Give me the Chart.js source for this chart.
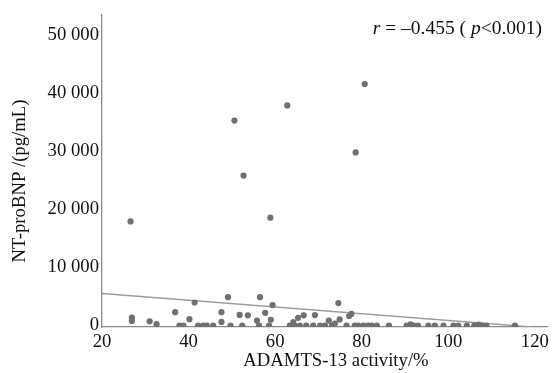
<!DOCTYPE html>
<html>
<head>
<meta charset="utf-8">
<script src="https://cdn.jsdelivr.net/npm/chart.js@4.4.1/dist/chart.umd.min.js"></script>
<style>
html,body{margin:0;padding:0;background:#fff;}
#wrap{width:553px;height:373px;position:relative;}
</style>
</head>
<body>
<div id="wrap"><canvas id="c" width="553" height="373"></canvas></div>
<script>
// ADAMTS-13 activity (%) of each patient
const activity = [
  26.6, 50.6, 62.8, 78.6, 52.7, 58.9, 80.7,
  26.9, 26.9, 31.0, 32.6, 36.9, 41.4, 40.2, 47.6, 47.6, 49.1, 51.8, 53.7, 56.5,
  55.8, 57.7, 59.0, 59.4, 64.2, 65.3, 66.6, 69.2, 72.4, 74.6, 74.9, 77.1, 77.6,
  37.9, 38.8, 42.2, 43.4, 44.2, 45.7, 49.7, 52.4, 56.3, 58.6, 63.4, 64.5, 65.7,
  67.2, 68.8, 70.4, 71.5, 73.1, 73.8, 76.5, 78.4, 79.2, 80.4, 81.5, 82.3, 83.5,
  86.3, 90.4, 91.3, 92.0, 93.0, 95.4, 96.9, 98.9, 101.2, 102.3, 104.3, 106.0,
  107.0, 107.8, 108.8, 115.4
];
// NT-proBNP (pg/mL) of each patient
const ntprobnp = [
  17900, 35230, 37830, 29750, 25770, 18540, 41510,
  1350, 800, 730, 230, 2300, 3960, 1100, 2300, 620, 4870, 1820, 1760, 4870,
  850, 2180, 1000, 3520, 600, 1320, 1760, 1800, 850, 3860, 1050, 1640, 1990,
  0, 0, 0, 0, 0, 0, 0, 0, 0, 0, 0, 0, 0,
  0, 0, 0, 0, 0, 350, 0, 0, 0, 0, 0, 0, 0,
  0, 0, 200, 0, 0, 0, 0, 0, 0, 0, 0, 0,
  150, 0, 0, 0
];
// fitted regression line end points
const fitX = [20, 119.3];
const fitY = [5500, -240];

const xTicks = [20, 40, 60, 80, 100, 120];
const yTicks = [0, 10000, 20000, 30000, 40000, 50000];
const yTickLabels = ['0', '10 000', '20 000', '30 000', '40 000', '50 000'];

const xTitle = 'ADAMTS-13 activity/%';
const yTitle = 'NT-proBNP /(pg/mL)';
const statParts = [['r', true], [' = \u20130.455 ( ', false], ['p', true], ['<0.001)', false]];

const FONT = '"Liberation Serif", "Times New Roman", serif';

const textPlugin = {
  id: 'texts',
  afterDraw(chart) {
    const ctx = chart.ctx;
    ctx.save();
    ctx.fillStyle = '#111';
    ctx.font = '18.7px ' + FONT;
    ctx.textAlign = 'center';
    ctx.textBaseline = 'middle';
    ctx.fillText(xTitle, 336, 361);
    ctx.save();
    ctx.translate(20, 181);
    ctx.rotate(-Math.PI / 2);
    ctx.fillText(yTitle, 0, 0);
    ctx.restore();
    // statistic annotation, right aligned
    ctx.textAlign = 'left';
    let total = 0;
    const widths = statParts.map(([t, it]) => {
      ctx.font = (it ? 'italic ' : '') + '19.5px ' + FONT;
      const w = ctx.measureText(t).width;
      total += w;
      return w;
    });
    let x = 542 - total;
    statParts.forEach(([t, it], i) => {
      ctx.font = (it ? 'italic ' : '') + '19.5px ' + FONT;
      ctx.fillText(t, x, 29);
      x += widths[i];
    });
    ctx.restore();
  }
};

new Chart(document.getElementById('c'), {
  type: 'scatter',
  data: {
    datasets: [
      {
        type: 'line',
        data: fitX.map((x, i) => ({x: x, y: fitY[i]})),
        borderColor: '#9c9c9c',
        borderWidth: 1.5,
        pointRadius: 0,
        fill: false,
        order: 2
      },
      {
        data: activity.map((x, i) => ({x: x, y: ntprobnp[i]})),
        backgroundColor: '#707070',
        borderColor: '#707070',
        borderWidth: 0,
        pointRadius: 3.1,
        order: 1
      }
    ]
  },
  options: {
    responsive: false,
    animation: false,
    layout: {padding: {left: 0, right: 5, top: 10, bottom: 0}},
    plugins: {legend: {display: false}, tooltip: {enabled: false}},
    scales: {
      x: {
        type: 'linear',
        min: 20,
        max: 123,
        grid: {display: false, drawTicks: false},
        border: {display: true, color: '#8a8a8a', width: 1.3},
        afterBuildTicks(s) { s.ticks = xTicks.map(v => ({value: v})); },
        afterFit(s) { s.height = 46; },
        ticks: {
          padding: 4,
          color: '#111',
          font: {family: FONT, size: 18.7},
          maxRotation: 0,
          autoSkip: false
        }
      },
      y: {
        type: 'linear',
        min: -250,
        max: 53500,
        grid: {display: false, drawTicks: false},
        border: {display: true, color: '#8a8a8a', width: 1.3},
        afterBuildTicks(s) { s.ticks = yTicks.map(v => ({value: v})); },
        afterFit(s) { s.width = 102; },
        ticks: {
          padding: 3,
          color: '#111',
          font: {family: FONT, size: 18.7},
          autoSkip: false,
          callback(v) { const i = yTicks.indexOf(v); return i >= 0 ? yTickLabels[i] : ''; }
        }
      }
    }
  },
  plugins: [textPlugin]
});
</script>
</body>
</html>
